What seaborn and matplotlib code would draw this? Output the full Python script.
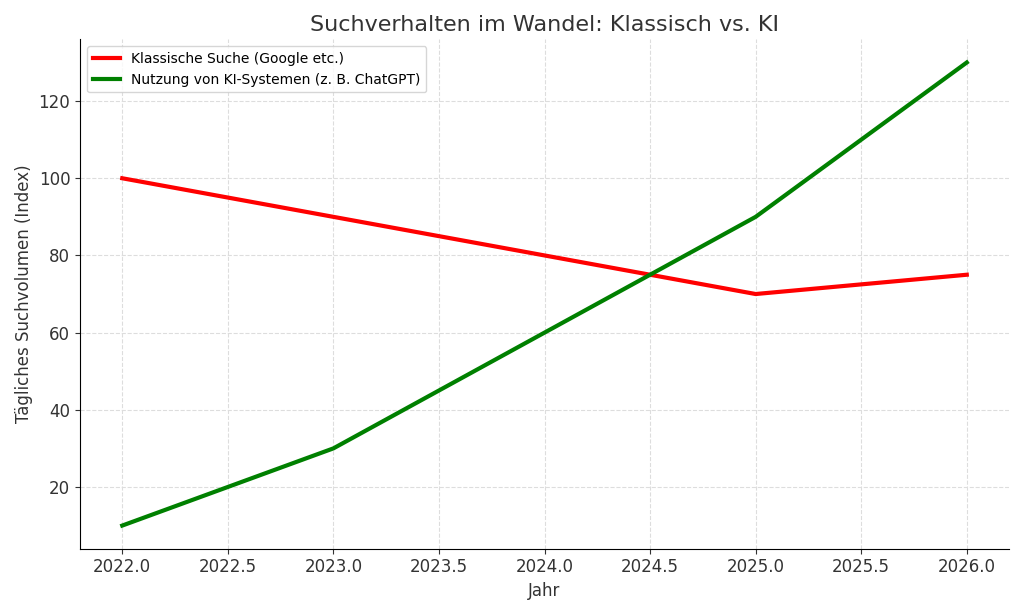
import matplotlib
matplotlib.use("Agg")
import matplotlib.pyplot as plt
import seaborn as sns
import pandas as pd

jahre = [2022, 2023, 2024, 2025, 2026]
klassisch = [100, 90, 80, 70, 75]
ki = [10, 30, 60, 90, 130]

df = pd.DataFrame({"Jahr": jahre * 2,
                   "Wert": klassisch + ki,
                   "Serie": ["Klassische Suche (Google etc.)"] * 5 + ["Nutzung von KI-Systemen (z. B. ChatGPT)"] * 5})

fig, ax = plt.subplots(figsize=(10.24, 6.15), dpi=100)
sns.lineplot(data=df, x="Jahr", y="Wert", hue="Serie",
             palette=["#ff0000", "#008000"], linewidth=3, ax=ax)
ax.set_title("Suchverhalten im Wandel: Klassisch vs. KI", fontsize=16, color="#333333")
ax.set_xlabel("Jahr", fontsize=12, color="#333333")
ax.set_ylabel("Tägliches Suchvolumen (Index)", fontsize=12, color="#333333")
ax.grid(True, linestyle="--", color="#dddddd", linewidth=0.8)
ax.set_xticks([2022, 2022.5, 2023, 2023.5, 2024, 2024.5, 2025, 2025.5, 2026])
ax.set_xticklabels([f"{v:.1f}" for v in ax.get_xticks()])
ax.tick_params(labelsize=12, colors="#333333")
for s in ["top", "right"]:
    ax.spines[s].set_visible(False)
leg = ax.legend(loc="upper left", fontsize=10, title=None)
fig.tight_layout()
fig.savefig("out.png")
